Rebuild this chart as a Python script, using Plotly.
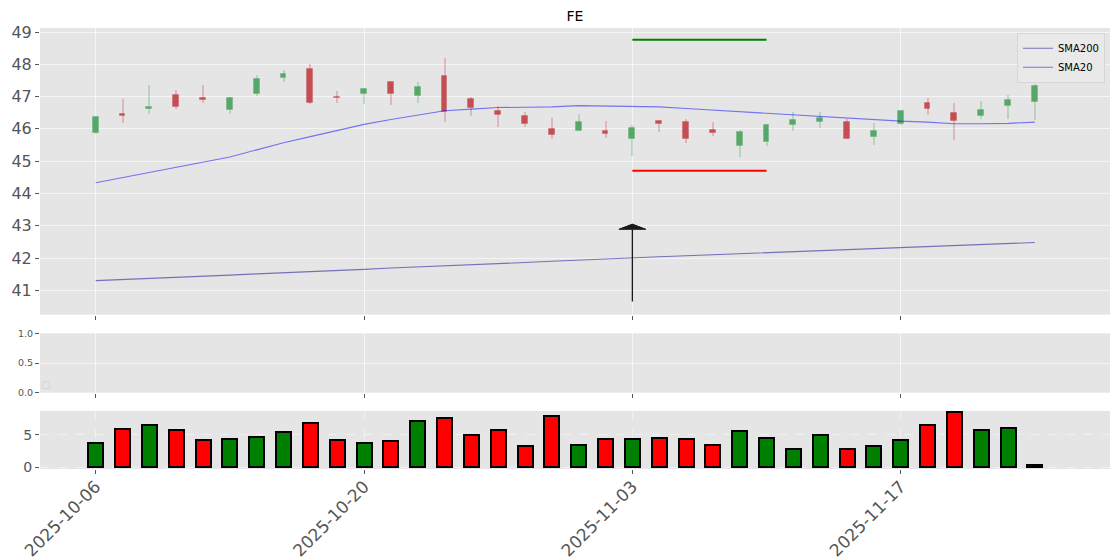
import pandas as pd
import plotly.graph_objects as go

# ---------------- data ----------------
dates = [d.strftime("%Y-%m-%d") for d in pd.bdate_range("2025-10-06", periods=36)]
tick_labels = ["2025-10-06", "2025-10-20", "2025-11-03", "2025-11-17"]

open_ = [45.88, 46.47, 46.62, 47.05, 46.96, 46.58, 47.09, 47.58, 47.86, 47.00,
         47.08, 47.44, 47.02, 47.64, 46.93, 46.56, 46.40, 46.01, 45.92, 45.94,
         45.69, 46.25, 46.22, 45.95, 45.47, 45.59, 46.12, 46.21, 46.22, 45.75,
         46.15, 46.80, 46.49, 46.40, 46.71, 46.83]
high = [46.40, 46.92, 47.36, 47.21, 47.37, 47.00, 47.67, 47.82, 48.00, 47.18,
        47.28, 47.45, 47.44, 48.20, 46.98, 46.72, 46.52, 46.34, 46.47, 46.25,
        46.12, 46.29, 46.31, 46.22, 45.96, 46.14, 46.52, 46.52, 46.31, 46.18,
        46.58, 46.95, 46.81, 46.87, 47.06, 47.39]
low = [45.84, 46.17, 46.47, 46.63, 46.80, 46.47, 47.02, 47.46, 46.77, 46.81,
       46.77, 46.74, 46.81, 46.22, 46.40, 46.05, 46.05, 45.68, 45.92, 45.71,
       45.16, 45.90, 45.56, 45.78, 45.12, 45.47, 45.93, 46.03, 45.68, 45.50,
       46.11, 46.43, 45.65, 46.30, 46.32, 46.27]
close = [46.37, 46.40, 46.67, 46.68, 46.89, 46.95, 47.55, 47.71, 46.80, 46.96,
         47.23, 47.08, 47.30, 46.53, 46.64, 46.43, 46.15, 45.81, 46.22, 45.84,
         46.03, 46.16, 45.69, 45.88, 45.91, 46.13, 46.28, 46.35, 45.70, 45.93,
         46.56, 46.62, 46.25, 46.59, 46.90, 47.33]

sma20 = [44.33, 44.49, 44.65, 44.80, 44.96, 45.13, 45.35, 45.57, 45.76, 45.95,
         46.14, 46.29, 46.43, 46.56, 46.61, 46.66, 46.67, 46.68, 46.72, 46.71,
         46.69, 46.68, 46.63, 46.58, 46.54, 46.50, 46.45, 46.39, 46.34, 46.28,
         46.24, 46.21, 46.16, 46.16, 46.17, 46.21]
sma200 = [41.30, 41.33, 41.37, 41.40, 41.44, 41.47, 41.51, 41.54, 41.58, 41.61,
          41.65, 41.69, 41.72, 41.76, 41.79, 41.83, 41.86, 41.90, 41.94, 41.97,
          42.01, 42.04, 42.07, 42.10, 42.14, 42.17, 42.20, 42.23, 42.26, 42.29,
          42.32, 42.35, 42.38, 42.41, 42.45, 42.48]

volume = [3.67, 5.90, 6.48, 5.74, 4.15, 4.30, 4.73, 5.37, 6.80, 4.15,
          3.78, 3.99, 7.17, 7.60, 4.89, 5.74, 3.19, 7.92, 3.48, 4.30,
          4.30, 4.46, 4.30, 3.35, 5.58, 4.46, 2.87, 4.89, 2.87, 3.19,
          4.15, 6.48, 8.60, 5.74, 6.05, 0.35]

signal_index = 20
signal_end_index = 25
arrow_start = 40.65
arrow_end = 43.05
target_high = 48.76
target_low = 44.70

# ---------------- styles ----------------
GREEN = "#55a868"
RED = "#c44e52"
BG = "#e5e5e5"
TICK = "#555555"
GRID = "rgba(255,255,255,0.6)"
PAGE_OFFSET = 8  # default body margin of the html page

idx = list(range(len(dates)))
up = [c >= o for o, c in zip(open_, close)]

fig = go.Figure()

# wicks
fig.add_trace(go.Bar(
    x=idx, y=[h - l for h, l in zip(high, low)], base=low, width=0.075,
    marker=dict(color=["rgba(85,168,104,0.3)" if u else "rgba(196,78,82,0.3)" for u in up],
                line=dict(width=0)),
    xaxis="x", yaxis="y", showlegend=False, hoverinfo="skip"))
# bodies
fig.add_trace(go.Bar(
    x=idx, y=[max(abs(c - o), 0.03) for o, c in zip(open_, close)],
    base=[min(o, c) for o, c in zip(open_, close)], width=0.22,
    marker=dict(color=[GREEN if u else RED for u in up],
                line=dict(width=1, color=["rgba(85,168,104,0.35)" if u else "rgba(196,78,82,0.35)" for u in up])),
    xaxis="x", yaxis="y", showlegend=False, hoverinfo="skip"))

fig.add_trace(go.Scatter(x=idx, y=sma200, mode="lines", name="SMA200",
                         line=dict(color="rgba(0,0,139,0.5)", width=1.1),
                         xaxis="x", yaxis="y"))
fig.add_trace(go.Scatter(x=idx, y=sma20, mode="lines", name="SMA20",
                         line=dict(color="rgba(0,0,255,0.5)", width=1.1),
                         xaxis="x", yaxis="y"))

# target lines
fig.add_trace(go.Scatter(x=[signal_index, signal_end_index], y=[target_high, target_high],
                         mode="lines", line=dict(color="#008000", width=2),
                         showlegend=False, hoverinfo="skip", xaxis="x", yaxis="y"))
fig.add_trace(go.Scatter(x=[signal_index, signal_end_index], y=[target_low, target_low],
                         mode="lines", line=dict(color="#ff0000", width=2),
                         showlegend=False, hoverinfo="skip", xaxis="x", yaxis="y"))

# volume
vol_colors = [("#008000" if u else "#ff0000") for u in up]
vol_colors[-1] = "#000000"
fig.add_trace(go.Bar(x=idx, y=volume, width=0.56,
                     marker=dict(color=vol_colors, line=dict(color="black", width=2)),
                     xaxis="x3", yaxis="y3", showlegend=False, hoverinfo="skip"))

# invisible trace for middle panel
fig.add_trace(go.Scatter(x=[None], y=[None], xaxis="x2", yaxis="y2", showlegend=False))

# arrow
head_len = 0.16
head_half = 0.5
fig.add_shape(type="line", xref="x", yref="y",
              x0=signal_index, x1=signal_index, y0=arrow_start, y1=arrow_end - head_len,
              line=dict(color="#1a1a1a", width=1.3))
fig.add_shape(type="path", xref="x", yref="y",
              path=(f"M {signal_index - head_half},{arrow_end - head_len} "
                    f"L {signal_index},{arrow_end} "
                    f"L {signal_index + head_half},{arrow_end - head_len} Z"),
              fillcolor="#1a1a1a", line=dict(color="#1a1a1a", width=1))

# empty legend box in middle panel
fig.add_shape(type="rect", xref="x2 domain", yref="y2 domain",
              x0=0.0025, x1=0.0087, y0=0.07, y1=0.18,
              line=dict(color="#d4d4d4", width=1), fillcolor="rgba(0,0,0,0)")

xr = [-2.076, 37.80]
common_x = dict(range=xr, tickvals=[0, 10, 20, 30], showgrid=True, gridcolor=GRID,
                gridwidth=1, ticks="outside", ticklen=4, tickcolor=TICK, zeroline=False,
                showline=False, automargin=False)

W, H = 1120 - PAGE_OFFSET, 560 - PAGE_OFFSET
fig.update_layout(
    width=W, height=H,
    margin=dict(l=40 - PAGE_OFFSET, r=10, t=28 - PAGE_OFFSET, b=91),
    paper_bgcolor="white", plot_bgcolor=BG,
    barmode="overlay", bargap=0,
    font=dict(family="DejaVu Sans", color=TICK),
    title=dict(text="FE", x=0.5, xref="paper", xanchor="center",
               y=1 - (15.7 - PAGE_OFFSET) / H,
               yref="container", yanchor="middle", font=dict(size=14, color="black")),
    showlegend=True,
    legend=dict(x=0.9953, xanchor="right", y=0.9893, yanchor="top",
                bgcolor="#e9e9e9", bordercolor="#d6d6d6", borderwidth=1,
                font=dict(size=10, color="black"), tracegroupgap=0, itemwidth=30),
    xaxis=dict(**common_x, domain=[0, 1], anchor="y", showticklabels=False),
    yaxis=dict(domain=[0.3499, 1], range=[40.245, 49.124], tickvals=list(range(41, 50)),
               showgrid=True, gridcolor=GRID, gridwidth=1, ticks="outside", ticklen=4,
               tickcolor=TICK, tickfont=dict(size=16, color=TICK), zeroline=False,
               automargin=False),
    xaxis2=dict(**common_x, domain=[0, 1], anchor="y2", showticklabels=False),
    yaxis2=dict(domain=[0.1730, 0.3077], range=[0, 1], tickvals=[0, 0.5, 1],
                ticktext=["0.0", "0.5", "1.0"], showgrid=True, gridcolor=GRID,
                ticks="outside", ticklen=4, tickcolor=TICK,
                tickfont=dict(size=9.5, color=TICK), zeroline=False, automargin=False),
    xaxis3=dict(range=xr, tickvals=[0, 10, 20, 30], ticktext=tick_labels, tickangle=-45,
                showgrid=True, gridcolor="rgba(255,255,255,0.45)", griddash="dash",
                ticks="outside", ticklen=4, tickcolor=TICK, tickfont=dict(size=17, color=TICK),
                ticklabelstandoff=-4,
                zeroline=False, domain=[0, 1], anchor="y3", automargin=False),
    yaxis3=dict(domain=[0.0, 0.1315], range=[-0.3, 8.68], tickvals=[0, 5],
                showgrid=True, gridcolor="rgba(255,255,255,0.45)", griddash="dash",
                ticks="outside", ticklen=4, tickcolor=TICK, tickfont=dict(size=14, color=TICK),
                zeroline=False, automargin=False),
)

fig.write_html("out.html")
